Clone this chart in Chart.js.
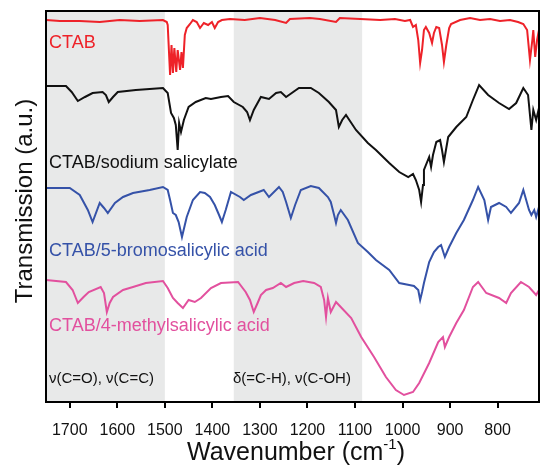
<!DOCTYPE html>
<html>
<head>
<meta charset="utf-8">
<script src="https://cdn.jsdelivr.net/npm/chart.js@4.4.1/dist/chart.umd.min.js"></script>
<style>
  html, body { margin: 0; padding: 0; background: #fff; }
  #wrap { width: 540px; height: 466px; }
</style>
</head>
<body>
<div id="wrap"><canvas id="ftirChart" width="540" height="466"></canvas></div>
<script>
// wavenumbers (cm-1) and transmission (a.u., offset traces)
const ctabWn = [1750,1721,1679,1637,1595,1553,1504,1496,1494,1489,1486,1483,1480,1476,1473,1468,1465,1462,1458,1454,1447,1441,1433,1426,1418,1409,1401,1395,1388,1380,1363,1332,1300,1268,1245,1237,1195,1174,1140,1132,1089,1047,1016,995,984,978,972,967,963,959,955,951,944,938,934,929,923,917,913,908,902,898,879,858,837,816,795,774,757,746,738,732,727,725,721,717,713];
const ctabT  = [382,381,381,380,382,381,382,380,377,327,357,329,354,330,352,332,350,334,367,374,378,382,380,374,379,377,380,374,380,382,383,382,384,382,379,383,384,383,380,384,383,382,383,381,382,375,377,362,339,352,372,375,369,359,369,375,374,357,340,357,374,378,382,384,382,383,381,382,380,378,372,342,362,372,345,362,372];

const salWn = [1750,1708,1696,1683,1668,1652,1631,1624,1618,1609,1599,1561,1532,1504,1494,1487,1481,1477,1473,1470,1466,1460,1450,1435,1414,1403,1382,1367,1355,1336,1327,1321,1313,1298,1281,1266,1256,1245,1218,1193,1176,1155,1140,1134,1127,1119,1098,1073,1056,1028,1007,988,978,972,965,961,957,955,944,940,936,929,921,917,913,908,904,887,866,852,839,820,797,776,761,746,736,729,725,719,713];
const salT  = [316,316,310,301,305,309,310,307,300,305,310,312,313,314,309,289,284,277,252,279,270,282,295,300,304,303,305,306,300,295,290,282,292,305,303,309,310,305,314,314,309,300,292,275,282,287,272,259,252,239,230,225,228,222,212,200,217,232,245,235,247,260,262,252,240,254,265,275,285,302,317,307,299,293,299,314,307,272,292,282,294];

const bromoWn = [1750,1700,1679,1662,1652,1637,1628,1620,1605,1588,1567,1532,1504,1494,1489,1483,1477,1471,1464,1458,1454,1441,1426,1416,1405,1395,1386,1380,1372,1361,1342,1334,1319,1292,1281,1260,1252,1245,1235,1226,1214,1193,1176,1157,1151,1144,1140,1136,1130,1115,1094,1073,1056,1028,1007,986,976,967,963,959,955,944,934,925,919,911,902,887,871,852,841,828,820,814,797,782,772,755,746,734,729,723,719,713];
const bromoT  = [214,214,207,192,180,199,194,189,199,205,209,212,215,212,202,189,187,180,165,177,185,202,210,209,205,197,187,180,192,210,205,202,207,212,205,215,210,200,184,197,212,216,214,205,200,187,179,187,192,182,159,150,142,132,119,117,116,112,102,110,119,140,150,155,157,145,155,169,182,202,215,202,182,195,199,195,189,199,212,192,187,192,185,195];

const methylWn = [1750,1708,1694,1683,1671,1660,1635,1628,1622,1616,1609,1588,1567,1540,1504,1494,1483,1473,1462,1450,1437,1424,1403,1382,1346,1330,1321,1313,1304,1298,1287,1273,1256,1245,1228,1209,1186,1172,1165,1161,1157,1151,1140,1130,1108,1087,1060,1035,1014,997,978,965,944,925,915,911,902,887,871,852,841,824,797,782,772,751,734,719,713];
const methylT  = [122,120,112,99,105,110,115,109,90,99,105,112,115,119,121,114,104,99,94,102,100,104,114,119,120,110,102,90,100,107,112,114,119,115,119,121,119,115,102,85,104,90,100,95,84,65,45,25,12,7,10,19,39,60,65,55,65,79,92,115,120,109,104,99,109,120,115,107,112];

const xTicks = [1700,1600,1500,1400,1300,1200,1100,1000,900,800];
const bands = [[1750,1500],[1355,1085]];

const seriesNames = ['CTAB','CTAB/sodium salicylate','CTAB/5-bromosalicylic acid','CTAB/4-methylsalicylic acid'];
const seriesColors = ['#ee2229','#111111','#3552a8','#e2509e'];

const FONT = "'Liberation Sans', Arial, sans-serif";

function toPoints(wn, t) {
    return wn.map((w, i) => ({ x: w, y: t[i] }));
}

// grey bands behind the spectra
const bandPlugin = {
    id: 'bands',
    beforeDatasetsDraw(chart) {
        const { ctx, chartArea, scales } = chart;
        ctx.save();
        ctx.fillStyle = '#e8e9e9';
        bands.forEach(([a, b]) => {
            const x1 = scales.x.getPixelForValue(a);
            const x2 = scales.x.getPixelForValue(b);
            ctx.fillRect(Math.min(x1, x2), chartArea.top, Math.abs(x2 - x1), chartArea.bottom - chartArea.top);
        });
        ctx.restore();
    }
};

// frame, labels, axis titles
const decorPlugin = {
    id: 'decor',
    afterDraw(chart) {
        const { ctx, chartArea } = chart;
        ctx.save();
        ctx.strokeStyle = '#000';
        ctx.lineWidth = 2;
        ctx.strokeRect(chartArea.left, chartArea.top, chartArea.right - chartArea.left, chartArea.bottom - chartArea.top);

        // series labels
        const labelY = [43, 163, 251, 326];
        ctx.font = '18px ' + FONT;
        ctx.textBaseline = 'middle';
        ctx.textAlign = 'left';
        seriesNames.forEach((n, i) => {
            ctx.fillStyle = seriesColors[i];
            ctx.fillText(n, 49, labelY[i]);
        });

        // band annotations
        ctx.fillStyle = '#111';
        ctx.font = '15px ' + FONT;
        ctx.fillText('\u03bd(C=O), \u03bd(C=C)', 49, 379);
        ctx.fillText('\u03b4(=C-H), \u03bd(C-OH)', 233, 379);

        // y title
        ctx.save();
        ctx.translate(25, 201);
        ctx.rotate(-Math.PI / 2);
        ctx.textAlign = 'center';
        ctx.font = '24px ' + FONT;
        ctx.fillStyle = '#111';
        ctx.fillText('Transmission (a.u.)', 0, 0);
        ctx.restore();

        // x title with superscript
        ctx.textBaseline = 'alphabetic';
        ctx.fillStyle = '#111';
        const main = 'Wavenumber (cm', sup = '-1', end = ')';
        ctx.font = '25px ' + FONT;
        const w1 = ctx.measureText(main).width, w3 = ctx.measureText(end).width;
        ctx.font = '15px ' + FONT;
        const w2 = ctx.measureText(sup).width;
        let x = 296 - (w1 + w2 + w3) / 2;
        ctx.font = '25px ' + FONT;
        ctx.fillText(main, x, 460);
        x += w1;
        ctx.font = '15px ' + FONT;
        ctx.fillText(sup, x, 449);
        x += w2;
        ctx.font = '25px ' + FONT;
        ctx.fillText(end, x, 460);
        ctx.restore();
    }
};

const ctx = document.getElementById('ftirChart').getContext('2d');
const ftirChart = new Chart(ctx, {
    type: 'line',
    data: {
        datasets: [
            { label: seriesNames[0], data: toPoints(ctabWn, ctabT) },
            { label: seriesNames[1], data: toPoints(salWn, salT) },
            { label: seriesNames[2], data: toPoints(bromoWn, bromoT) },
            { label: seriesNames[3], data: toPoints(methylWn, methylT) }
        ].map((d, i) => Object.assign(d, {
            borderColor: seriesColors[i],
            borderWidth: 2,
            pointRadius: 0,
            tension: 0,
            fill: false
        }))
    },
    options: {
        responsive: false,
        animation: false,
        layout: { padding: { left: 46, right: 1, top: 11, bottom: 0 } },
        plugins: {
            legend: { display: false },
            tooltip: { enabled: false }
        },
        scales: {
            x: {
                type: 'linear',
                reverse: true,
                min: 713,
                max: 1750,
                afterBuildTicks: (axis) => { axis.ticks = xTicks.map(v => ({ value: v })); },
                afterFit: (axis) => { axis.height = 64; },
                border: { display: false },
                grid: { drawOnChartArea: false, drawTicks: true, tickLength: 6, color: '#000', lineWidth: 2 },
                ticks: {
                    color: '#111',
                    font: { size: 16, family: FONT },
                    padding: 13,
                    maxRotation: 0,
                    autoSkip: false,
                    callback: (v) => String(v)
                }
            },
            y: {
                display: false,
                min: 0,
                max: 391
            }
        }
    },
    plugins: [bandPlugin, decorPlugin]
});
</script>
</body>
</html>
